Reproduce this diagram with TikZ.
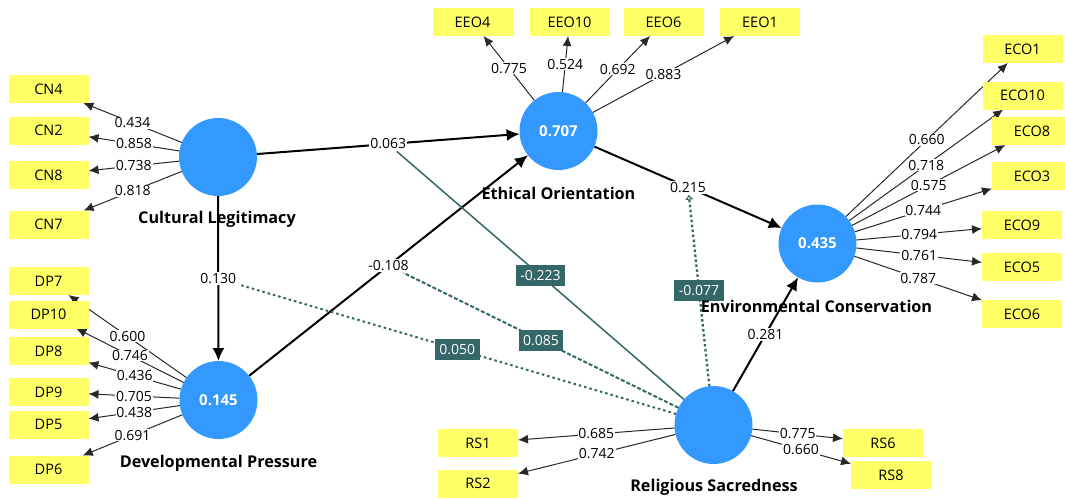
\documentclass[tikz,border=0pt]{standalone}
\usepackage{fontspec}
\setmainfont{Open Sans}
\usetikzlibrary{arrows.meta,backgrounds}
\definecolor{lvblue}{RGB}{51,153,255}
\definecolor{mvyellow}{RGB}{255,255,102}
\definecolor{modteal}{RGB}{52,104,104}
\definecolor{loadgray}{RGB}{40,40,40}
\tikzset{
  lv/.style={circle,fill=lvblue,minimum size=78pt,inner sep=0pt,outer sep=0pt,text=white,font=\bfseries\fontsize{15}{15}\selectfont},
  mv/.style={rectangle,fill=mvyellow,minimum width=80pt,minimum height=28pt,inner sep=0pt,outer sep=0pt,font=\fontsize{14.5}{14.5}\selectfont},
  lvname/.style={font=\bfseries\fontsize{16.2}{16.2}\selectfont,inner sep=0pt},
  loadedge/.style={draw=loadgray,line width=1pt,-{Latex[length=10pt,width=9pt]}},
  loadlbl/.style={fill=white,inner sep=0.8pt,font=\fontsize{14}{14}\selectfont},
  stredge/.style={draw=black,line width=2pt,-{Latex[length=13pt,width=12pt]}},
  strlbl/.style={fill=white,inner sep=1.2pt,font=\fontsize{14}{14}\selectfont},
  modlbl/.style={fill=modteal,text=white,inner xsep=4.5pt,inner ysep=5.5pt,font=\fontsize{14}{14}\selectfont},
  modtip/.style={-{Latex[open,length=5pt,width=9pt,line width=1pt]}},
  modA/.style={draw=modteal,line width=1.5pt},
  modB/.style={draw=modteal,line width=2pt,dash pattern=on 4pt off 2pt},
  modC/.style={draw=modteal,line width=2pt,dash pattern=on 2.5pt off 3pt},
  modD/.style={draw=modteal,line width=2.3pt,dash pattern=on 2.5pt off 2.5pt,modtip},
}
\begin{document}
\begin{tikzpicture}[x=1pt,y=-1pt]
\useasboundingbox (0,0) rectangle (1065,499);
% latent variables
\node[lv] (CL) at (218,157) {};
\node[lv] (DP) at (218.5,400) {0.145};
\node[lv] (EO) at (558.5,131) {0.707};
\node[lv] (ECO) at (817.5,243.5) {0.435};
\node[lv] (RS) at (713.5,425) {};
% indicators
\node[mv] (CN4) at (48.5,89) {CN4};
\node[mv] (CN2) at (48.5,130.5) {CN2};
\node[mv] (CN8) at (48.5,175) {CN8};
\node[mv] (CN7) at (48.5,224.5) {CN7};
\node[mv] (DP7) at (48.5,281) {DP7};
\node[mv] (DP10) at (48.5,314.5) {DP10};
\node[mv] (DP8) at (48.5,351) {DP8};
\node[mv] (DP9) at (48.5,392) {DP9};
\node[mv] (DP5) at (48.5,424.5) {DP5};
\node[mv] (DP6) at (48.5,469.5) {DP6};
\node[mv] (EEO4) at (472.5,22) {EEO4};
\node[mv] (EEO10) at (569.5,22) {EEO10};
\node[mv] (EEO6) at (663.5,22) {EEO6};
\node[mv] (EEO1) at (760,22) {EEO1};
\node[mv] (ECO1) at (1022.5,49) {ECO1};
\node[mv] (ECO10) at (1022.5,95.5) {ECO10};
\node[mv] (ECO8) at (1032,131) {ECO8};
\node[mv] (ECO3) at (1032,176) {ECO3};
\node[mv] (ECO9) at (1022,225) {ECO9};
\node[mv] (ECO5) at (1022,267) {ECO5};
\node[mv] (ECO6) at (1022,314) {ECO6};
\node[mv] (RS1) at (478,443) {RS1};
\node[mv] (RS2) at (478,483.5) {RS2};
\node[mv] (RS6) at (883,443) {RS6};
\node[mv] (RS8) at (891,475) {RS8};
\begin{pgfonlayer}{background}
\fill[white] (0,0) rectangle (1065,499);
% loadings
\draw[loadedge] (CL) -- node[loadlbl]{0.434} (CN4);
\draw[loadedge] (CL) -- node[loadlbl]{0.858} (CN2);
\draw[loadedge] (CL) -- node[loadlbl]{0.738} (CN8);
\draw[loadedge] (CL) -- node[loadlbl]{0.818} (CN7);
\draw[loadedge] (DP) -- node[loadlbl]{0.600} (DP7);
\draw[loadedge] (DP) -- node[loadlbl]{0.746} (DP10);
\draw[loadedge] (DP) -- node[loadlbl]{0.436} (DP8);
\draw[loadedge] (DP) -- node[loadlbl]{0.705} (DP9);
\draw[loadedge] (DP) -- node[loadlbl]{0.438} (DP5);
\draw[loadedge] (DP) -- node[loadlbl]{0.691} (DP6);
\draw[loadedge] (EO) -- node[loadlbl]{0.775} (EEO4);
\draw[loadedge] (EO) -- node[loadlbl]{0.524} (EEO10);
\draw[loadedge] (EO) -- node[loadlbl]{0.692} (EEO6);
\draw[loadedge] (EO) -- node[loadlbl]{0.883} (EEO1);
\draw[loadedge] (ECO) -- node[loadlbl]{0.660} (ECO1);
\draw[loadedge] (ECO) -- node[loadlbl]{0.718} (ECO10);
\draw[loadedge] (ECO) -- node[loadlbl]{0.575} (ECO8);
\draw[loadedge] (ECO) -- node[loadlbl]{0.744} (ECO3);
\draw[loadedge] (ECO) -- node[loadlbl]{0.794} (ECO9);
\draw[loadedge] (ECO) -- node[loadlbl]{0.761} (ECO5);
\draw[loadedge] (ECO) -- node[loadlbl]{0.787} (ECO6);
\draw[loadedge] (RS) -- node[loadlbl]{0.685} (RS1);
\draw[loadedge] (RS) -- node[loadlbl]{0.742} (RS2);
\draw[loadedge] (RS) -- node[loadlbl]{0.775} (RS6);
\draw[loadedge] (RS) -- node[loadlbl]{0.660} (RS8);
% structural paths
\draw[stredge] (CL) -- node[strlbl] (l063) {0.063} (EO);
\draw[stredge] (CL) -- node[strlbl] (l130) {0.130} (DP);
\draw[stredge] (DP) -- node[strlbl] (l108) {-0.108} (EO);
\draw[stredge] (EO) -- node[strlbl] (l215) {0.215} (ECO);
\draw[stredge] (RS) -- node[strlbl] (l281) {0.281} (ECO);
% moderating effects
\draw[modA] (RS) -- node[modlbl]{-0.223} (l063);
\draw[modB] (RS) -- node[modlbl]{0.085} (l108);
\draw[modC] (RS) -- node[modlbl]{0.050} (l130);
\draw[modD] (RS) -- node[modlbl]{-0.077} (l215);
\end{pgfonlayer}
% construct names
\node[lvname] (nCL) at (217,219) {Cultural Legitimacy};
\node[lvname] (nDP) at (218.5,463) {Developmental Pressure};
\node[lvname] (nEO) at (558.5,193) {Ethical Orientation};
\node[lvname] (nECO) at (816.5,306) {Environmental Conservation};
\node[lvname] (nRS) at (714,487) {Religious Sacredness};
\end{tikzpicture}
\end{document}
